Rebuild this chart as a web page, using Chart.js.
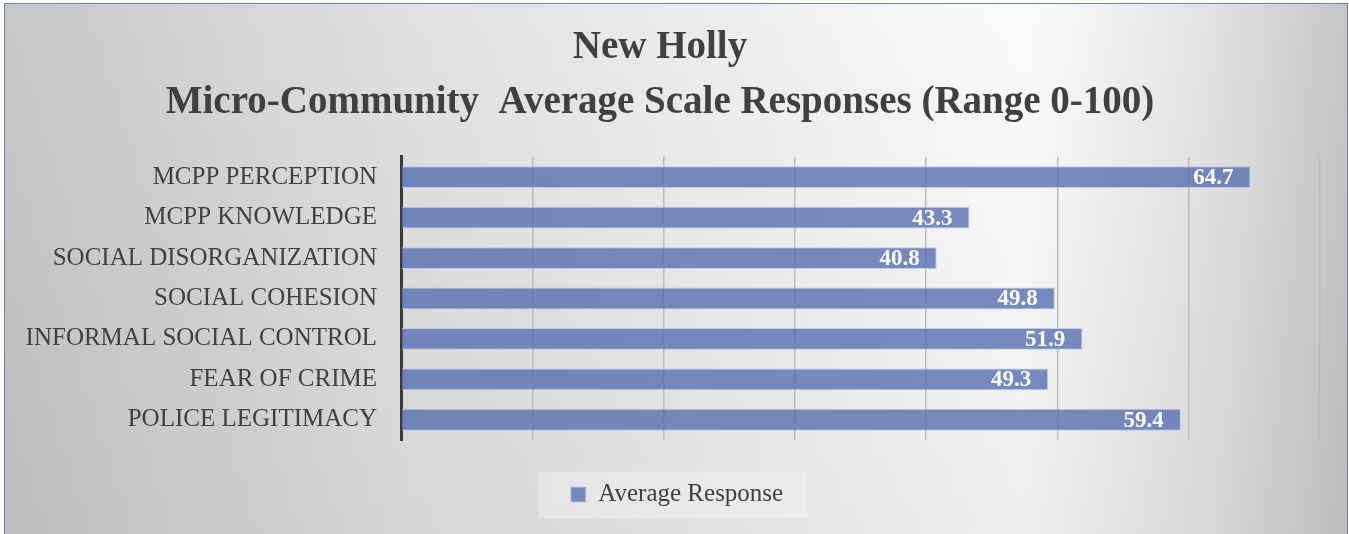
<!DOCTYPE html>
<html lang="en">
  <head>
    <meta charset="UTF-8" />
    <title>New Holly Micro-Community Average Scale Responses</title>
    <style>
      * {
        box-sizing: border-box;
        margin: 0;
        padding: 0;
      }
      body {
        width: 1349px;
        height: 534px;
        overflow: hidden;
        background: #ffffff;
      }
      .frame {
        position: absolute;
        left: 4px;
        top: 3px;
        width: 1344px;
        height: 540px;
        border: 1.5px solid #6a7fc6;
        background: linear-gradient(
            to bottom,
            rgba(0, 0, 0, 0) 0%,
            rgba(0, 0, 0, 0.05) 100%
          ),
          linear-gradient(
            to right,
            #c7c7c7 0%,
            #e0e0e0 30%,
            #f0f0f0 58%,
            #fbfbfb 76%,
            #e4e4e4 89%,
            #c6c6c6 100%
          );
      }
      canvas {
        position: absolute;
        left: 0;
        top: 0;
      }
    </style>
  </head>
  <body>
    <div class="frame"></div>
    <canvas id="chart" width="1349" height="534"></canvas>

    <script src="https://cdn.jsdelivr.net/npm/chart.js"></script>
    <script>
      const categories = [
        "MCPP PERCEPTION",
        "MCPP KNOWLEDGE",
        "SOCIAL DISORGANIZATION",
        "SOCIAL COHESION",
        "INFORMAL SOCIAL CONTROL",
        "FEAR OF CRIME",
        "POLICE LEGITIMACY",
      ];
      const averageResponse = [64.7, 43.3, 40.8, 49.8, 51.9, 49.3, 59.4];
      const seriesName = "Average Response";
      const titleLines = [
        "New Holly",
        "Micro-Community  Average Scale Responses (Range 0-100)",
      ];
      const axisMax = 70;
      const axisStep = 10;

      const serif = "'Liberation Serif', 'DejaVu Serif', serif";
      const textColor = "#404040";

      // white values drawn inside the end of each bar
      const valueLabels = {
        id: "valueLabels",
        afterDatasetsDraw(chart) {
          const ctx = chart.ctx;
          const meta = chart.getDatasetMeta(0);
          ctx.save();
          ctx.font = "bold 23px " + serif;
          ctx.fillStyle = "#ffffff";
          ctx.textAlign = "right";
          ctx.textBaseline = "middle";
          meta.data.forEach((bar, i) => {
            ctx.fillText(averageResponse[i].toFixed(1), bar.x - 17, bar.y + 1);
          });
          ctx.restore();
        },
      };

      // nudge the legend a bit right, then a light panel behind it
      const legendShift = 17;
      const legendPanel = {
        id: "legendPanel",
        afterLayout(chart) {
          const lg = chart.legend;
          if (!lg) return;
          lg.left += legendShift;
          lg.right += legendShift;
          lg.legendHitBoxes.forEach((h) => (h.left += legendShift));
        },
        beforeDraw(chart) {
          const hit = chart.legend && chart.legend.legendHitBoxes[0];
          if (!hit) return;
          const ctx = chart.ctx;
          const cy = hit.top + hit.height / 2;
          ctx.save();
          ctx.fillStyle = "rgba(255, 255, 255, 0.28)";
          ctx.fillRect(hit.left - 32, cy - 23, hit.width + 56, 47);
          ctx.restore();
        },
      };

      new Chart(document.getElementById("chart"), {
        type: "bar",
        data: {
          labels: categories,
          datasets: [
            {
              label: seriesName,
              data: averageResponse,
              backgroundColor: "rgba(88, 111, 178, 0.8)",
              borderColor: "rgba(190, 200, 235, 0.9)",
              borderWidth: 1,
              barPercentage: 0.54,
              categoryPercentage: 1,
            },
          ],
        },
        options: {
          indexAxis: "y",
          responsive: false,
          animation: false,
          layout: {
            padding: { top: 0, right: 29, bottom: 17, left: 0 },
          },
          scales: {
            x: {
              min: 0,
              max: axisMax,
              ticks: { display: false, stepSize: axisStep },
              grid: {
                color: "#bcbcbc",
                lineWidth: 1.5,
                drawTicks: false,
              },
              border: { display: false },
              afterFit(scale) {
                scale.height = 23;
              },
            },
            y: {
              ticks: {
                color: textColor,
                font: { family: serif, size: 25 },
                padding: 24,
              },
              grid: { display: false, drawTicks: false },
              border: { display: true, color: "#3a3a3a", width: 3 },
              afterFit(scale) {
                scale.width = 401;
              },
            },
          },
          plugins: {
            title: {
              display: true,
              text: titleLines,
              color: textColor,
              font: { family: serif, size: 39, weight: "bold", lineHeight: 1.41 },
              padding: { top: 20, bottom: 27 },
            },
            legend: {
              position: "bottom",
              labels: {
                color: textColor,
                font: { family: serif, size: 25 },
                boxWidth: 15,
                boxHeight: 15,
                padding: 19,
              },
            },
            tooltip: { enabled: false },
          },
        },
        plugins: [legendPanel, valueLabels],
      });
    </script>
  </body>
</html>
